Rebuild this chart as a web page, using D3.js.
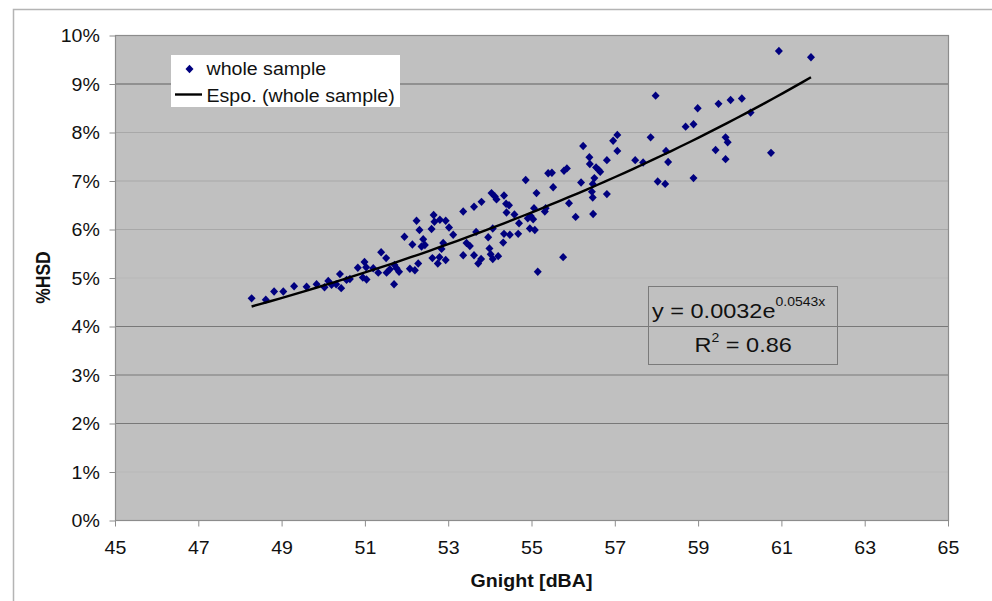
<!DOCTYPE html>
<html>
<head>
<meta charset="utf-8">
<script src="https://cdn.jsdelivr.net/npm/d3@7"></script>
<style>
  body { margin: 0; background: #fff; }
  svg text { font-family: "Liberation Sans", Arial, sans-serif; fill: #111; }
</style>
</head>
<body>
<div id="chart"></div>
<script>
// Gnight [dBA] of each sample
var gnight = [
  48.28, 48.62, 48.82, 49.04, 49.30, 49.60, 49.84, 50.03, 50.12, 50.20,
  50.31, 50.40, 50.43, 50.56, 50.64, 50.83, 50.95, 50.99, 51.03, 51.04,
  51.20, 51.32, 51.39, 51.51, 51.52, 51.60, 51.70, 51.71, 51.76, 51.82,
  51.95, 52.08, 52.14, 52.20, 52.24, 52.28, 52.31, 52.36, 52.40, 52.44,
  52.60, 52.62, 52.65, 52.67, 52.75, 52.79, 52.80, 52.84, 52.88, 52.94,
  52.94, 53.02, 53.12, 53.36, 53.36, 53.44, 53.52, 53.62, 53.62, 53.67,
  53.72, 53.79, 53.80, 53.96, 53.99, 54.02, 54.04, 54.07, 54.07, 54.12,
  54.16, 54.20, 54.32, 54.34, 54.34, 54.39, 54.40, 54.46, 54.48, 54.59,
  54.68, 54.70, 54.86, 54.91, 54.96, 54.98, 55.04, 55.06, 55.08, 55.12,
  55.15, 55.32, 55.34, 55.40, 55.49, 55.52, 55.76, 55.78, 55.85, 55.90,
  56.06, 56.19, 56.24, 56.39, 56.40, 56.45, 56.47, 56.47, 56.48, 56.51,
  56.55, 56.61, 56.65, 56.81, 56.81, 56.96, 57.06, 57.06, 57.49, 57.68,
  57.86, 57.98, 58.03, 58.21, 58.23, 58.28, 58.70, 58.89, 58.89, 58.99,
  59.42, 59.49, 59.66, 59.71, 59.66, 59.78, 60.05, 60.26, 60.75, 60.94,
  61.71
];
// %HSD of each sample (same order)
var hsd = [
  4.57, 4.54, 4.71, 4.71, 4.82, 4.81, 4.86, 4.80, 4.93, 4.85,
  4.86, 5.07, 4.78, 4.95, 4.97, 5.20, 5.00, 5.32, 5.21, 4.96,
  5.19, 5.10, 5.52, 5.40, 5.10, 5.17, 4.86, 5.26, 5.19, 5.12,
  5.84, 5.18, 5.68, 5.15, 6.17, 5.29, 5.98, 5.64, 5.79, 5.67,
  6.00, 5.40, 6.29, 6.15, 5.29, 5.42, 6.19, 5.59, 5.71, 6.17,
  5.36, 6.03, 5.88, 6.36, 5.46, 5.71, 5.65, 6.46, 5.46, 5.94,
  5.29, 5.38, 6.56, 5.83, 5.60, 5.48, 6.74, 6.01, 5.38, 6.67,
  6.61, 5.44, 5.72, 6.69, 5.90, 6.52, 6.34, 6.49, 5.88, 6.30,
  5.90, 6.12, 7.01, 6.22, 6.01, 6.27, 6.20, 6.43, 5.98, 6.74,
  5.12, 6.36, 6.43, 7.15, 7.16, 6.86, 5.42, 7.20, 7.25, 6.53,
  6.25, 6.96, 7.71, 7.48, 7.34, 6.77, 6.65, 6.93, 6.31, 7.05,
  7.27, 7.22, 7.18, 7.42, 6.72, 7.82, 7.94, 7.61, 7.42, 7.37,
  7.89, 8.75, 6.98, 6.93, 7.61, 7.38, 8.11, 8.16, 7.05, 8.49,
  7.63, 8.58, 7.89, 7.79, 7.44, 8.66, 8.69, 8.40, 7.57, 9.67,
  9.54
];

// exponential trendline as printed on the chart
var fitA = 0.0032;
var fitB = 0.0543;
var fitR2 = 0.86;

var xTicks = [45, 47, 49, 51, 53, 55, 57, 59, 61, 63, 65];
var yTicks = [0, 1, 2, 3, 4, 5, 6, 7, 8, 9, 10];

var seriesName = "whole sample";
var trendName = "Espo. (whole sample)";

function init() {
    var w = 992;
    var h = 601;
    var left = 115, right = 948, top = 35, bottom = 520;
    var sx = 1.12;   // source picture is a bit wider than tall

    var dataset = gnight.map(function(g, i) { return { g: g, p: hsd[i] }; });

    var xScale = d3.scaleLinear().domain([45, 65]).range([left, right]);
    var yScale = d3.scaleLinear().domain([0, 10]).range([bottom, top]);

    var svg = d3.select("#chart")
        .append("svg")
        .attr("width", w)
        .attr("height", h);

    // outer chart frame
    svg.append("path")
        .attr("d", "M13.5," + h + "V9.5H" + w)
        .attr("fill", "none")
        .attr("stroke", "#b4b4b4")
        .attr("stroke-width", 1.5);

    // plot area
    svg.append("rect")
        .attr("x", left).attr("y", top)
        .attr("width", right - left).attr("height", bottom - top)
        .attr("fill", "#c0c0c0");

    // gridlines (some came out darker in the source)
    var gridTone = { 9: "#606060", 4: "#787878", 3: "#787878", 2: "#787878", 5: "#b8b8b8", 1: "#b8b8b8" };
    svg.append("g")
        .selectAll("line")
        .data(yTicks.filter(function(d) { return d > 0 && d < 10; }))
        .enter().append("line")
        .attr("x1", left).attr("x2", right)
        .attr("y1", function(d) { return yScale(d) + 0.5; })
        .attr("y2", function(d) { return yScale(d) + 0.5; })
        .attr("stroke", function(d) { return gridTone[d] || "#a8a8a8"; })
        .attr("stroke-width", 1.2);

    svg.append("rect")
        .attr("x", left + 0.5).attr("y", top + 0.5)
        .attr("width", right - left).attr("height", bottom - top)
        .attr("fill", "none")
        .attr("stroke", "#8c8c8c")
        .attr("stroke-width", 1.2);

    // axes
    var yAxis = d3.axisLeft(yScale)
        .tickValues(yTicks)
        .tickSize(6)
        .tickFormat(function(d) { return d + "%"; });
    var gy = svg.append("g")
        .attr("transform", "translate(" + (left + 0.5) + ",0.5)")
        .call(yAxis);

    var xAxis = d3.axisBottom(xScale)
        .tickValues(xTicks)
        .tickSize(6);
    var gx = svg.append("g")
        .attr("transform", "translate(0," + (bottom + 0.5) + ")")
        .call(xAxis);

    [gx, gy].forEach(function(g) {
        g.select(".domain").remove();
        g.selectAll(".tick line").attr("stroke", "#8c8c8c");
        g.selectAll(".tick text")
            .style("font-size", "17.5px")
            .attr("fill", "#1a1a1a");
    });
    gy.selectAll(".tick text")
        .attr("x", -14).attr("dy", "0.36em")
        .attr("transform", "scale(" + sx + ",1)");
    gx.selectAll(".tick text")
        .attr("y", 34).attr("dy", 0)
        .attr("transform", "scale(" + sx + ",1)");

    // axis titles
    svg.append("text")
        .attr("transform", "translate(" + ((left + right) / 2) + ",587) scale(" + sx + ",1)")
        .attr("text-anchor", "middle")
        .style("font-size", "17.5px")
        .style("font-weight", "bold")
        .text("Gnight [dBA]");

    svg.append("text")
        .attr("transform", "translate(50," + ((top + bottom) / 2) + ") scale(" + sx + ",1) rotate(-90)")
        .attr("text-anchor", "middle")
        .style("font-size", "17.5px")
        .style("font-weight", "bold")
        .text("%HSD");

    // diamonds
    var diamond = "M0,-4.2L4,0L0,4.2L-4,0Z";
    svg.append("g")
        .selectAll("path")
        .data(dataset)
        .enter().append("path")
        .attr("d", diamond)
        .attr("transform", function(d) { return "translate(" + xScale(d.g) + "," + yScale(d.p) + ")"; })
        .attr("fill", "#00007f");

    // exponential trendline over the sample range
    var gExt = d3.extent(gnight);
    var trend = d3.range(gExt[0], gExt[1] + 0.001, (gExt[1] - gExt[0]) / 60)
        .map(function(g) { return { g: g, p: 100 * fitA * Math.exp(fitB * g) }; });
    var line = d3.line()
        .x(function(d) { return xScale(d.g); })
        .y(function(d) { return yScale(d.p); });
    svg.append("path")
        .datum(trend)
        .attr("d", line)
        .attr("fill", "none")
        .attr("stroke", "#000")
        .attr("stroke-width", 2.4);

    // equation box
    svg.append("rect")
        .attr("x", 648.5).attr("y", 286.5)
        .attr("width", 189).attr("height", 78)
        .attr("fill", "none")
        .attr("stroke", "#7a7a7a");

    var eq = svg.append("text")
        .attr("transform", "translate(652,318) scale(" + sx + ",1)")
        .style("font-size", "21px");
    eq.append("tspan").text("y = " + fitA + "e");
    eq.append("tspan").attr("dy", -12).style("font-size", "12.5px").text(fitB + "x");

    var r2 = svg.append("text")
        .attr("transform", "translate(694.5,352) scale(" + sx + ",1)")
        .style("font-size", "21px");
    r2.append("tspan").text("R");
    r2.append("tspan").attr("dy", -10).style("font-size", "12.5px").text("2");
    r2.append("tspan").attr("dy", 10).text(" = " + fitR2);

    // legend
    var lg = svg.append("g");
    lg.append("rect")
        .attr("x", 171).attr("y", 55)
        .attr("width", 229).attr("height", 52)
        .attr("fill", "#fff");
    lg.append("path")
        .attr("d", diamond)
        .attr("transform", "translate(189.5,69)")
        .attr("fill", "#00007f");
    lg.append("line")
        .attr("x1", 175).attr("x2", 202)
        .attr("y1", 94.5).attr("y2", 94.5)
        .attr("stroke", "#000").attr("stroke-width", 2.4);
    lg.append("text")
        .attr("transform", "translate(206.5,74.5) scale(" + sx + ",1)")
        .style("font-size", "17.5px")
        .text(seriesName);
    lg.append("text")
        .attr("transform", "translate(206.5,101.5) scale(" + sx + ",1)")
        .style("font-size", "17.5px")
        .text(trendName);
}

window.onload = init;
</script>
</body>
</html>
